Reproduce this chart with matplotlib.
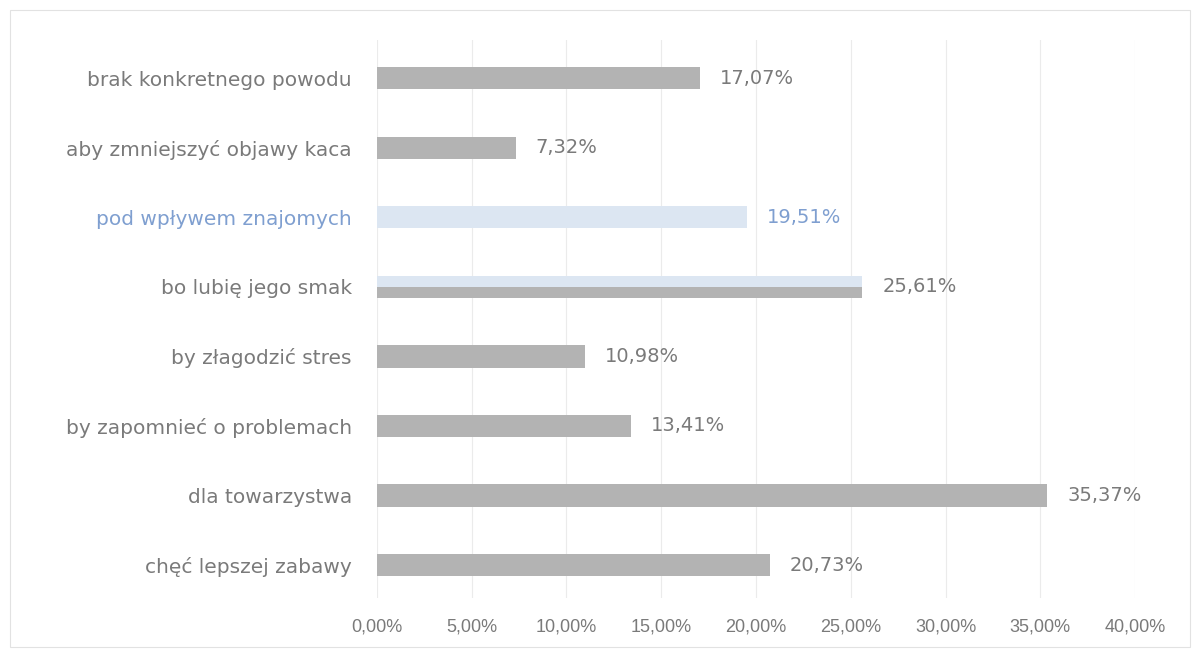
import matplotlib
matplotlib.use('Agg')
import matplotlib.pyplot as plt
from matplotlib.patches import Rectangle

# data (top to bottom as in the chart)
categories = ['brak konkretnego powodu', 'aby zmniejszyć objawy kaca', 'pod wpływem znajomych',
              'bo lubię jego smak', 'by złagodzić stres', 'by zapomnieć o problemach',
              'dla towarzystwa', 'chęć lepszej zabawy']
values = [17.07, 7.32, 19.51, 25.61, 10.98, 13.41, 35.37, 20.73]
ticks = [0, 5, 10, 15, 20, 25, 30, 35, 40]

gray = '#b3b3b3'
blue = '#dce6f2'
txt = '#7a7a7a'
blue_txt = '#7f9fd0'

plt.rcParams['font.family'] = ['DejaVu Sans']
fig = plt.figure(figsize=(12, 6.54), dpi=100)
fig.patches.append(Rectangle((0.008, 0.01), 0.984, 0.975, transform=fig.transFigure,
                             fill=False, edgecolor='#e2e2e2', linewidth=0.8))
ax = fig.add_axes([0.314, 0.086, 0.632, 0.853])

n = len(categories)
ypos = list(range(n))[::-1]
h = 0.32

for i, (y, v) in enumerate(zip(ypos, values)):
    c = blue if i == 2 else gray
    ax.barh(y, v, height=h, color=c, zorder=2)
    if i == 3:
        # upper half lighter, as in the original
        ax.barh(y + h / 4, v, height=h / 2, color=blue, zorder=3)
    lc = blue_txt if i == 2 else txt
    ax.text(v + 1.05, y, ('%.2f%%' % v).replace('.', ','), va='center', ha='left',
            fontsize=14, color=lc)

ax.set_yticks(ypos)
ax.set_yticklabels(categories, fontsize=14.5)
for i, lab in enumerate(ax.get_yticklabels()):
    lab.set_color(blue_txt if i == 2 else txt)

ax.set_xlim(0, 40)
ax.set_ylim(-0.47, n - 0.45)
ax.set_xticks(ticks)
ax.set_xticklabels([('%.2f%%' % t).replace('.', ',') for t in ticks], fontsize=13,
                   color=txt, family='Liberation Sans')
ax.tick_params(axis='both', length=0)
ax.tick_params(axis='x', pad=15)
ax.tick_params(axis='y', pad=18)
ax.grid(axis='x', color='#ebebeb', linewidth=0.8, zorder=0)
for s in ax.spines.values():
    s.set_visible(False)

fig.savefig('out.png', dpi=100)
